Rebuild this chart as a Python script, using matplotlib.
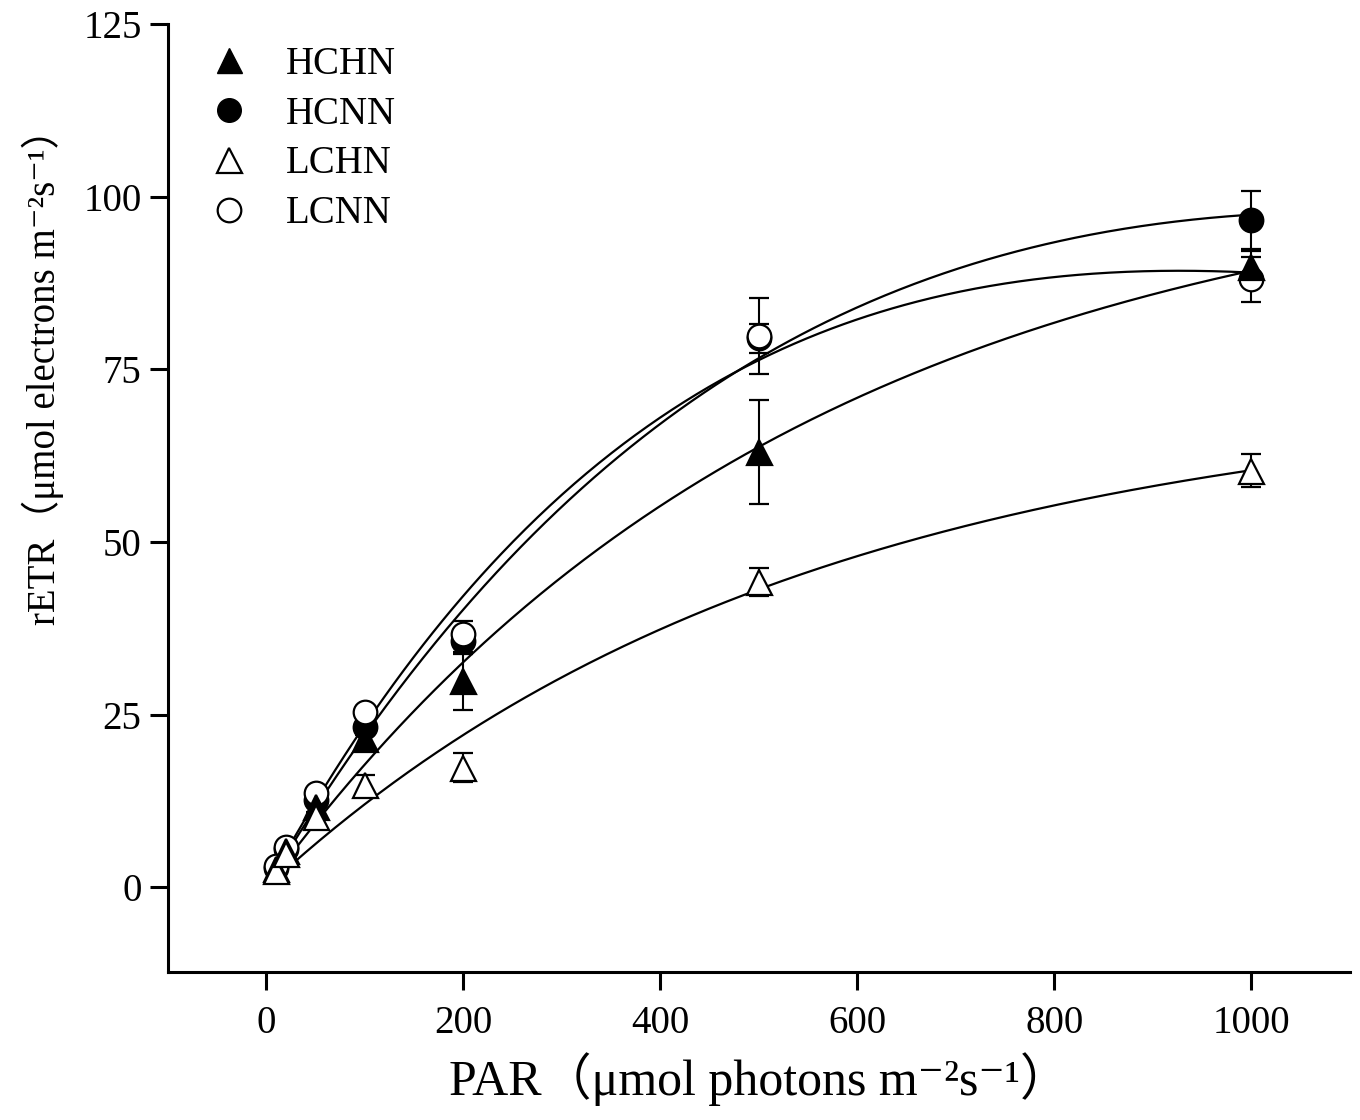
import numpy as np
import matplotlib
matplotlib.use("Agg")
import matplotlib.pyplot as plt
from matplotlib.lines import Line2D

# data
par = np.array([10, 20, 50, 100, 200, 500, 1000])

hchn = np.array([2.6, 5.2, 11.6, 21.5, 29.8, 63.0, 89.8])
hchn_err = np.array([0.5, 0.6, 1.0, 1.2, 4.2, 7.5, 2.3])
hcnn = np.array([2.8, 5.5, 12.6, 23.2, 35.6, 79.5, 96.6])
hcnn_err = np.array([0.4, 0.6, 1.0, 1.2, 1.8, 2.1, 4.2])
lchn = np.array([2.3, 4.8, 10.1, 14.8, 17.3, 44.2, 60.3])
lchn_err = np.array([0.4, 0.5, 0.8, 1.5, 2.1, 2.0, 2.4])
lcnn = np.array([3.0, 5.8, 13.6, 25.3, 36.6, 79.8, 88.0])
lcnn_err = np.array([0.4, 0.6, 0.8, 1.0, 1.9, 5.5, 3.3])

labels = ["HCHN", "HCNN", "LCHN", "LCNN"]
xticks = [0, 200, 400, 600, 800, 1000]
yticks = [0, 25, 50, 75, 100, 125]

plt.rcParams['font.family'] = ['Liberation Serif', 'Noto Sans CJK SC', 'DejaVu Sans']


# Platt-type light curve, Ps solved linearly for each (k1, k2) on a grid
def fit_platt(x, y):
    k1 = np.logspace(-4, -1, 400)[:, None]
    k2 = np.linspace(0, 0.003, 301)[None, :]
    basis = (1 - np.exp(-k1[..., None] * x)) * np.exp(-k2[..., None] * x)
    ps = (basis * y).sum(-1) / (basis ** 2).sum(-1)
    sse = ((ps[..., None] * basis - y) ** 2).sum(-1)
    i, j = np.unravel_index(np.argmin(sse), sse.shape)
    return ps[i, j], k1[i, 0], k2[0, j]


def platt(x, ps, k1, k2):
    return ps * (1 - np.exp(-k1 * x)) * np.exp(-k2 * x)


fig = plt.figure(figsize=(13.6, 11.2), dpi=100)
ax = fig.add_axes([0.1235, 0.132, 0.8691, 0.8466])

xs = np.linspace(10, 1000, 400)
series = [
    (hcnn, hcnn_err, 'o', 'black'),
    (lcnn, lcnn_err, 'o', 'white'),
    (hchn, hchn_err, '^', 'black'),
    (lchn, lchn_err, '^', 'white'),
]
for y, e, m, fc in series:
    ps, k1, k2 = fit_platt(par, y)
    ax.plot(xs, platt(xs, ps, k1, k2), color='black', lw=1.6, zorder=2)
for y, e, m, fc in series:
    ax.errorbar(par, y, yerr=e, fmt=m, ms=17 if m == 'o' else 18, mfc=fc, mec='black',
                mew=1.6, ecolor='black', elinewidth=1.5, capsize=7, capthick=1.5, zorder=3)

ax.set_xlim(-100, 1100)
ax.set_ylim(-12.3, 125)
ax.set_xticks(xticks)
ax.set_yticks(yticks)
ax.spines['top'].set_visible(False)
ax.spines['right'].set_visible(False)
ax.spines['left'].set_linewidth(2.2)
ax.spines['bottom'].set_linewidth(2.2)
ax.tick_params(direction='out', length=13, width=2.2, labelsize=28, pad=6)
ax.tick_params(axis='x', pad=11)

ax.set_xlabel('PAR（μmol photons m⁻²s⁻¹）', fontsize=36, labelpad=7)
ax.set_ylabel('rETR（μmol electrons m⁻²s⁻¹）', fontsize=28)
ax.yaxis.set_label_coords(-0.088, 0.638)

handles = [
    Line2D([], [], ls='none', marker='^', ms=18, mfc='black', mec='black'),
    Line2D([], [], ls='none', marker='o', ms=17, mfc='black', mec='black'),
    Line2D([], [], ls='none', marker='^', ms=18, mfc='white', mec='black', mew=1.6),
    Line2D([], [], ls='none', marker='o', ms=17, mfc='white', mec='black', mew=1.6),
]
ax.legend(handles, labels, loc='upper left', bbox_to_anchor=(0.0025, 1.014), frameon=False,
          fontsize=28, labelspacing=0.33, handletextpad=0.85, handlelength=1.2)

fig.savefig('out.png', dpi=100)
